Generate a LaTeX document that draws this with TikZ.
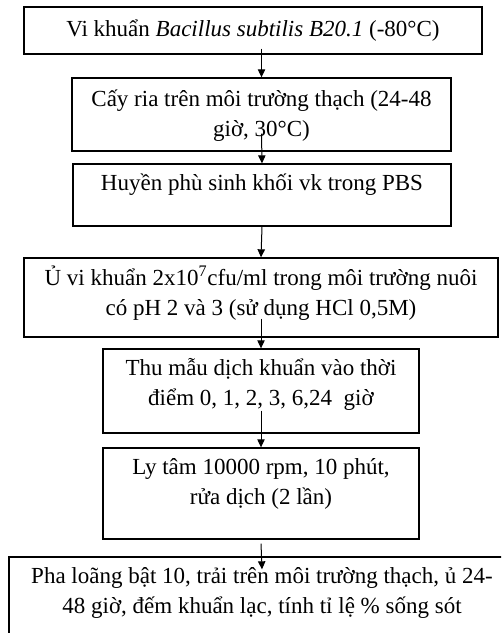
\documentclass[tikz,border=0pt]{standalone}
\usepackage{fontspec}
\setmainfont{Liberation Serif}
\usetikzlibrary{arrows.meta}
\newlength\px
\setlength\px{0.6pt}

\begin{document}
\begin{tikzpicture}[x=0.6pt,y=-0.6pt,box/.style={rectangle,draw,line width=0.8pt,inner sep=0pt},txt/.style={align=center,inner sep=0pt,font=\fontsize{13.8}{18}\selectfont},arrow/.style={-{Triangle[length=4.8pt,width=4.4pt]},line width=0.6pt}]
\clip (0,0) rectangle (501,633);
\node[box,minimum width=458\px,minimum height=47\px] (b1) at (253,30.5) {};
\node[box,minimum width=379\px,minimum height=73\px] (b2) at (261.5,114.5) {};
\node[box,minimum width=378\px,minimum height=62\px] (b3) at (262,195) {};
\node[box,minimum width=474\px,minimum height=79\px] (b4) at (261,297.5) {};
\node[box,minimum width=316\px,minimum height=84\px] (b5) at (261,391) {};
\node[box,minimum width=316\px,minimum height=91\px] (b6) at (261,493.5) {};
\node[box,minimum width=506\px,minimum height=102\px] (b7) at (262,608) {};
\node[txt] (t1) at (b1.center) {Vi khuẩn \textit{Bacillus subtilis B20.1} (-80°C)};
\node[txt] (t2) at ([yshift=-1.5\px]b2.center) {Cấy ria trên môi trường thạch (24-48\\giờ, 30°C)};
\node[txt] (t3) at ([yshift=10\px]b3.center) {Huyền phù sinh khối vk trong PBS};
\node[txt] (t4) at ([yshift=4.5\px]b4.center) {Ủ vi khuẩn 2x10\textsuperscript{7}cfu/ml trong môi trường nuôi\\có pH 2 và 3 (sử dụng HCl 0,5M)};
\node[txt] (t5) at ([yshift=6.5\px]b5.center) {Thu mẫu dịch khuẩn vào thời\\điểm 0, 1, 2, 3, 6,24\ \ giờ};
\node[txt] (t6) at ([yshift=9.5\px]b6.center) {Ly tâm 10000 rpm, 10 phút,\\rửa dịch (2 lần)};
\node[txt] (t7) at ([yshift=15.5\px]b7.center) {Pha loãng bật 10, trải trên môi trường thạch, ủ 24-\\48 giờ, đếm khuẩn lạc, tính tỉ lệ \% sống sót};
% arrows start a bit inside the upper box, as in the source
\draw[arrow] ([xshift=8.5\px,yshift=6\px]b1.south) -- (b2.north);
\draw[arrow] ([yshift=18\px]b2.south) -- (b3.north);
\draw[arrow] (b3.south) -- (b4.north);
\draw[arrow] ([yshift=19\px]b4.south) -- (b5.north);
\draw[arrow] ([yshift=23\px]b5.south) -- (b6.north);
\draw[arrow] ([yshift=-4\px]b6.south) -- ([yshift=-13\px]b7.north);
\end{tikzpicture}
\end{document}
